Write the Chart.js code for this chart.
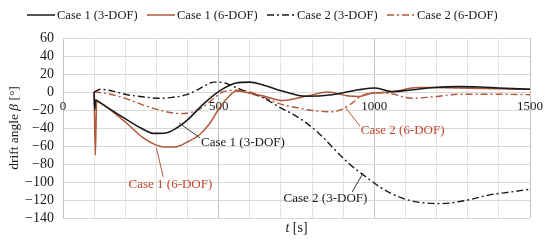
<!DOCTYPE html>
<html>
<head>
<meta charset="utf-8">
<script src="https://cdn.jsdelivr.net/npm/chart.js@4.4.1/dist/chart.umd.min.js"></script>
<style>
  html, body { margin: 0; padding: 0; background: #fff; }
  #wrap { width: 550px; height: 240px; position: relative; }
</style>
</head>
<body>
<div id="wrap"><canvas id="c" width="550" height="240"></canvas></div>
<script>
// ---- data (t in s, drift angle beta in degrees) ----
const seriesNames = ['Case 1 (3-DOF)', 'Case 1 (6-DOF)', 'Case 2 (3-DOF)', 'Case 2 (6-DOF)'];

const case1_3dof_t    = [100, 102, 105, 115, 160, 206, 250, 290, 330, 365, 400, 449, 502, 556, 598, 650, 705, 780, 865, 950, 1003, 1055, 1110, 1190, 1270, 1340, 1400, 1500];
const case1_3dof_beta = [0, -20, -9, -11, -21, -31, -40, -46, -45.5, -40, -31, -14, 1, 10, 11, 7, 1, -4.8, -3, 2.5, 4.5, 0.5, 2, 5, 6, 5.5, 4.5, 3];

const case1_6dof_t    = [100, 104, 108, 115, 160, 206, 258, 322, 360, 397, 440, 471, 502, 534, 556, 598, 650, 705, 790, 850, 917, 950, 992, 1055, 1141, 1270, 1400, 1500];
const case1_6dof_beta = [0, -70, -10, -11, -22, -35, -51, -61, -61, -56, -47, -35, -18, -4.5, 1, -1, -5, -9.5, -4, 0, -4.5, -5, -1.5, 0, 5, 4.5, 3.5, 3];

const case2_3dof_t    = [100, 120, 160, 206, 260, 311, 350, 397, 430, 461, 485, 520, 556, 598, 640, 696, 750, 802, 840, 870, 920, 972, 1020, 1055, 1120, 1215, 1300, 1374, 1440, 1500];
const case2_3dof_beta = [0, 3, 1, -3, -5.5, -7, -6, -3, 2, 8, 11, 10, 5, -1, -6, -17, -27, -40, -52, -63, -80, -94, -106, -113, -121, -124, -120, -114, -111, -108];

const case2_6dof_t    = [100, 130, 200, 258, 320, 380, 439, 481, 513, 556, 598, 631, 705, 760, 812, 863, 897, 930, 960, 1000, 1055, 1120, 1200, 1270, 1400, 1500];
const case2_6dof_beta = [0, -1, -7, -14.5, -21, -24, -19, -8, 0, 2, 0.5, -4, -14, -18, -21, -22, -19, -12, -4, -1, -2, -7, -5, -2.5, -2.5, -3];

const xTickLabels = [0, 500, 1000, 1500];
const yMin = -140, yMax = 60, yStep = 20;
const xMin = 0, xMax = 1500, xGridStep = 100;

// annotation labels: [text, label t, label beta, leader start t, beta, leader end t, beta, colour]
const annotations = [
  ['Case 1 (3-DOF)', 578, -56.7, 373, -34.4, 440, -51, '#1a1a1a'],
  ['Case 1 (6-DOF)', 345, -103, 300, -62.2, 322, -94.4, '#c0452e'],
  ['Case 2 (6-DOF)', 1091, -43.3, 906, -16.7, 954, -37.8, '#c0452e'],
  ['Case 2 (3-DOF)', 843, -118.9, 964, -90, 929, -111, '#1a1a1a']
];

// ---- build ----
function pts(t, b) { return t.map((v, i) => ({ x: v, y: b[i] })); }
const BLACK = '#1a1a1a';
const RED = '#b0583a';
const DASHDOT = [7, 3, 2, 3];
const serif = '"Liberation Serif", "DejaVu Serif", serif';

const datasets = [
  { label: seriesNames[0], data: pts(case1_3dof_t, case1_3dof_beta), borderColor: BLACK, borderWidth: 1.6, borderDash: [] },
  { label: seriesNames[1], data: pts(case1_6dof_t, case1_6dof_beta), borderColor: RED, borderWidth: 1.5, borderDash: [] },
  { label: seriesNames[2], data: pts(case2_3dof_t, case2_3dof_beta), borderColor: BLACK, borderWidth: 1.4, borderDash: DASHDOT },
  { label: seriesNames[3], data: pts(case2_6dof_t, case2_6dof_beta), borderColor: RED, borderWidth: 1.4, borderDash: DASHDOT }
].map(d => Object.assign(d, { pointRadius: 0, fill: false, cubicInterpolationMode: 'monotone' }));

function drawMixed(ctx, parts, cx, cy, size) {
  const widths = parts.map(p => { ctx.font = (p.i ? 'italic ' : '') + size + 'px ' + serif; return ctx.measureText(p.t).width; });
  const total = widths.reduce((a, b) => a + b, 0);
  let x = cx - total / 2;
  ctx.textAlign = 'left';
  ctx.textBaseline = 'middle';
  parts.forEach((p, i) => { ctx.font = (p.i ? 'italic ' : '') + size + 'px ' + serif; ctx.fillText(p.t, x, cy); x += widths[i]; });
}

const decorPlugin = {
  id: 'decor',
  afterDraw(chart) {
    const ctx = chart.ctx;
    const xs = chart.scales.x, ys = chart.scales.y;
    ctx.save();
    // legend
    const legendX = [27, 147, 267, 387];
    const ly = 15;
    datasets.forEach((d, i) => {
      ctx.beginPath();
      ctx.strokeStyle = d.borderColor;
      ctx.lineWidth = 1.5;
      ctx.setLineDash(d.borderDash);
      ctx.moveTo(legendX[i], ly);
      ctx.lineTo(legendX[i] + 28, ly);
      ctx.stroke();
      ctx.setLineDash([]);
      ctx.fillStyle = '#1a1a1a';
      ctx.font = '12.5px ' + serif;
      ctx.textAlign = 'left';
      ctx.textBaseline = 'middle';
      ctx.fillText(d.label, legendX[i] + 30, ly + 1);
    });
    // annotations
    annotations.forEach(a => {
      const [txt, lt, lb, s1, b1, s2, b2, col] = a;
      ctx.beginPath();
      ctx.strokeStyle = col === BLACK ? '#333' : RED;
      ctx.lineWidth = 1;
      ctx.moveTo(xs.getPixelForValue(s1), ys.getPixelForValue(b1));
      ctx.lineTo(xs.getPixelForValue(s2), ys.getPixelForValue(b2));
      ctx.stroke();
      ctx.fillStyle = col;
      ctx.font = '13px ' + serif;
      ctx.textAlign = 'center';
      ctx.textBaseline = 'middle';
      ctx.fillText(txt, xs.getPixelForValue(lt), ys.getPixelForValue(lb));
    });
    // axis titles
    ctx.fillStyle = '#1a1a1a';
    drawMixed(ctx, [{ t: 't', i: true }, { t: ' [s]', i: false }], (xs.left + xs.right) / 2, 228, 14);
    ctx.save();
    ctx.translate(14, (ys.top + ys.bottom) / 2);
    ctx.rotate(-Math.PI / 2);
    drawMixed(ctx, [{ t: 'drift angle ', i: false }, { t: 'β', i: true }, { t: ' [°]', i: false }], 0, 0, 13.5);
    ctx.restore();
    ctx.restore();
  }
};

new Chart(document.getElementById('c'), {
  type: 'line',
  data: { datasets },
  options: {
    responsive: false,
    animation: false,
    layout: { padding: { top: 38, right: 17, bottom: 22, left: 0 } },
    plugins: { legend: { display: false }, tooltip: { enabled: false } },
    scales: {
      x: {
        type: 'linear',
        min: xMin, max: xMax,
        position: { y: 0 },
        ticks: {
          stepSize: xGridStep,
          autoSkip: false,
          maxRotation: 0,
          padding: 7,
          color: '#1a1a1a',
          font: { family: serif, size: 13 },
          callback: v => xTickLabels.includes(v) ? String(v) : ''
        },
        grid: {
          drawTicks: false,
          color: c => (c.tick && xTickLabels.includes(c.tick.value)) ? '#c4c4c4' : '#e3e3e3',
          lineWidth: 1
        },
        border: { display: false }
      },
      y: {
        min: yMin, max: yMax,
        ticks: {
          stepSize: yStep,
          autoSkip: false,
          padding: 9,
          color: '#1a1a1a',
          font: { family: serif, size: 14 },
          callback: v => String(v).replace('-', '\u2212')
        },
        grid: { drawTicks: false, color: '#d9d9d9', lineWidth: 1 },
        border: { display: false },
        afterFit: s => { s.width = 63; }
      }
    }
  },
  plugins: [decorPlugin]
});
</script>
</body>
</html>
